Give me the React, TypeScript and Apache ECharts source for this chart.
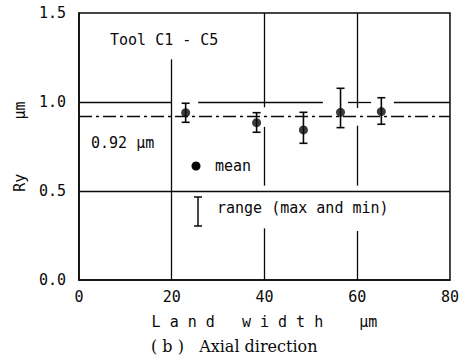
import React, { useEffect, useRef } from "react";
import * as echarts from "echarts";

// Data
const landWidth = [23, 38.3, 48.4, 56.4, 65.2];
const meanRy = [0.94, 0.884, 0.843, 0.942, 0.946];
const maxRy = [0.993, 0.94, 0.942, 1.077, 1.024];
const minRy = [0.886, 0.83, 0.768, 0.856, 0.875];
const overallMean = 0.92;

const xTicks = [0, 20, 40, 60, 80];
const yTicks = [0, 0.5, 1.0, 1.5];

// Gridline pieces (broken in the original where labels / marks sit)
// vertical: [x, yFrom, yTo]
const vGrid: [number, number, number][] = [
  [20, 0, 1.24],
  [40, 0, 0.29],
  [40, 0.53, 0.86],
  [40, 0.97, 1.5],
  [60, 0, 0.275],
  [60, 0.53, 0.867],
  [60, 0.966, 1.5],
];
// horizontal: [y, xFrom, xTo]
const hGrid: [number, number, number][] = [
  [1.0, 0, 20],
  [1.0, 25.7, 52.6],
  [1.0, 58, 63],
  [1.0, 67.9, 80],
  [0.5, 0, 80],
];

const MONO = "'DejaVu Sans Mono', 'Liberation Mono', monospace";
const INK = "#0a0a0a";

export default function App() {
  const ref = useRef<HTMLDivElement>(null);
  useEffect(() => {
    if (!ref.current) return;
    const chart = echarts.init(ref.current, undefined, { renderer: "svg" });

    const gridLines: any[] = [
      ...vGrid.map(([x, a, b]) => [{ coord: [x, a] }, { coord: [x, b] }]),
      ...hGrid.map(([y, a, b]) => [{ coord: [a, y] }, { coord: [b, y] }]),
      [
        { coord: [0, overallMean], lineStyle: { type: [13, 4, 3, 4], width: 1.3, color: INK } },
        { coord: [80, overallMean] },
      ],
    ];

    chart.setOption({
      animation: false,
      backgroundColor: "#fff",
      grid: {
        left: 79,
        top: 13,
        right: 12,
        bottom: 76,
        show: true,
        borderColor: INK,
        borderWidth: 1.5,
        backgroundColor: "transparent",
      },
      xAxis: {
        type: "value",
        min: 0,
        max: 80,
        interval: 20,
        name: "L a n d   w i d t h    μm",
        nameLocation: "middle",
        nameGap: 34,
        nameTextStyle: { fontFamily: MONO, fontSize: 15, color: INK },
        axisLine: { show: true, lineStyle: { color: INK, width: 1.5 } },
        axisTick: { show: false },
        splitLine: { show: false },
        axisLabel: {
          fontFamily: MONO,
          fontSize: 15,
          color: INK,
          margin: 9,
          formatter: (v: number) => (xTicks.includes(v) ? String(v) : ""),
        },
      },
      yAxis: {
        type: "value",
        min: 0,
        max: 1.5,
        interval: 0.5,
        name: "Ry      μm",
        nameLocation: "middle",
        nameRotate: 90,
        nameGap: 52,
        nameTextStyle: { fontFamily: MONO, fontSize: 15, color: INK },
        axisLine: { show: true, lineStyle: { color: INK, width: 1.5 } },
        axisTick: { show: false },
        splitLine: { show: false },
        axisLabel: {
          fontFamily: MONO,
          fontSize: 15,
          color: INK,
          margin: 13,
          formatter: (v: number) => {
            const t = yTicks.find((k) => Math.abs(k - v) < 1e-9);
            return t === undefined ? "" : t.toFixed(1);
          },
        },
      },
      series: [
        {
          type: "line",
          data: [],
          silent: true,
          markLine: {
            silent: true,
            symbol: ["none", "none"],
            label: { show: false },
            lineStyle: { color: INK, width: 1.3, type: "solid" },
            data: gridLines,
          },
        },
        {
          type: "custom",
          silent: true,
          z: 5,
          data: landWidth.map((x, i) => [x, maxRy[i], minRy[i]]),
          renderItem: (params: any, api: any) => {
            const x = api.value(0);
            const top = api.coord([x, api.value(1)]);
            const bot = api.coord([x, api.value(2)]);
            const hw = 4;
            const style = { stroke: INK, lineWidth: 1.6 };
            return {
              type: "group",
              children: [
                { type: "line", shape: { x1: top[0], y1: top[1], x2: bot[0], y2: bot[1] }, style },
                { type: "line", shape: { x1: top[0] - hw, y1: top[1], x2: top[0] + hw, y2: top[1] }, style },
                { type: "line", shape: { x1: bot[0] - hw, y1: bot[1], x2: bot[0] + hw, y2: bot[1] }, style },
              ],
            };
          },
        },
        {
          type: "scatter",
          z: 6,
          symbol: "circle",
          symbolSize: 9,
          itemStyle: { color: INK },
          data: landWidth.map((x, i) => [x, meanRy[i]]),
        },
      ],
      graphic: [
        {
          type: "text",
          left: 110,
          top: 32,
          style: { text: "Tool C1 - C5", fontFamily: MONO, fontSize: 15, fill: INK },
        },
        {
          type: "text",
          left: 91,
          top: 135,
          style: { text: "0.92 μm", fontFamily: MONO, fontSize: 15, fill: INK },
        },
        {
          type: "circle",
          shape: { cx: 196, cy: 166, r: 4.5 },
          style: { fill: INK },
        },
        {
          type: "text",
          left: 215,
          top: 158,
          style: { text: "mean", fontFamily: MONO, fontSize: 15, fill: INK },
        },
        {
          type: "group",
          children: [
            { type: "line", shape: { x1: 198, y1: 197, x2: 198, y2: 226 }, style: { stroke: INK, lineWidth: 1.5 } },
            { type: "line", shape: { x1: 194, y1: 197, x2: 202, y2: 197 }, style: { stroke: INK, lineWidth: 1.5 } },
            { type: "line", shape: { x1: 194, y1: 226, x2: 202, y2: 226 }, style: { stroke: INK, lineWidth: 1.5 } },
          ],
        },
        {
          type: "text",
          left: 217,
          top: 200,
          style: { text: "range (max and min)", fontFamily: MONO, fontSize: 15, fill: INK },
        },
        {
          type: "text",
          left: 151,
          top: 338,
          style: {
            text: "( b )   Axial direction",
            fontFamily: "'DejaVu Serif', 'Liberation Serif', serif",
            fontSize: 16,
            fill: INK,
          },
        },
      ],
    });
    return () => chart.dispose();
  }, []);

  return (
    <div
      ref={ref}
      style={{ position: "fixed", left: 0, top: 0, width: 462, height: 356, background: "#fff" }}
    />
  );
}
